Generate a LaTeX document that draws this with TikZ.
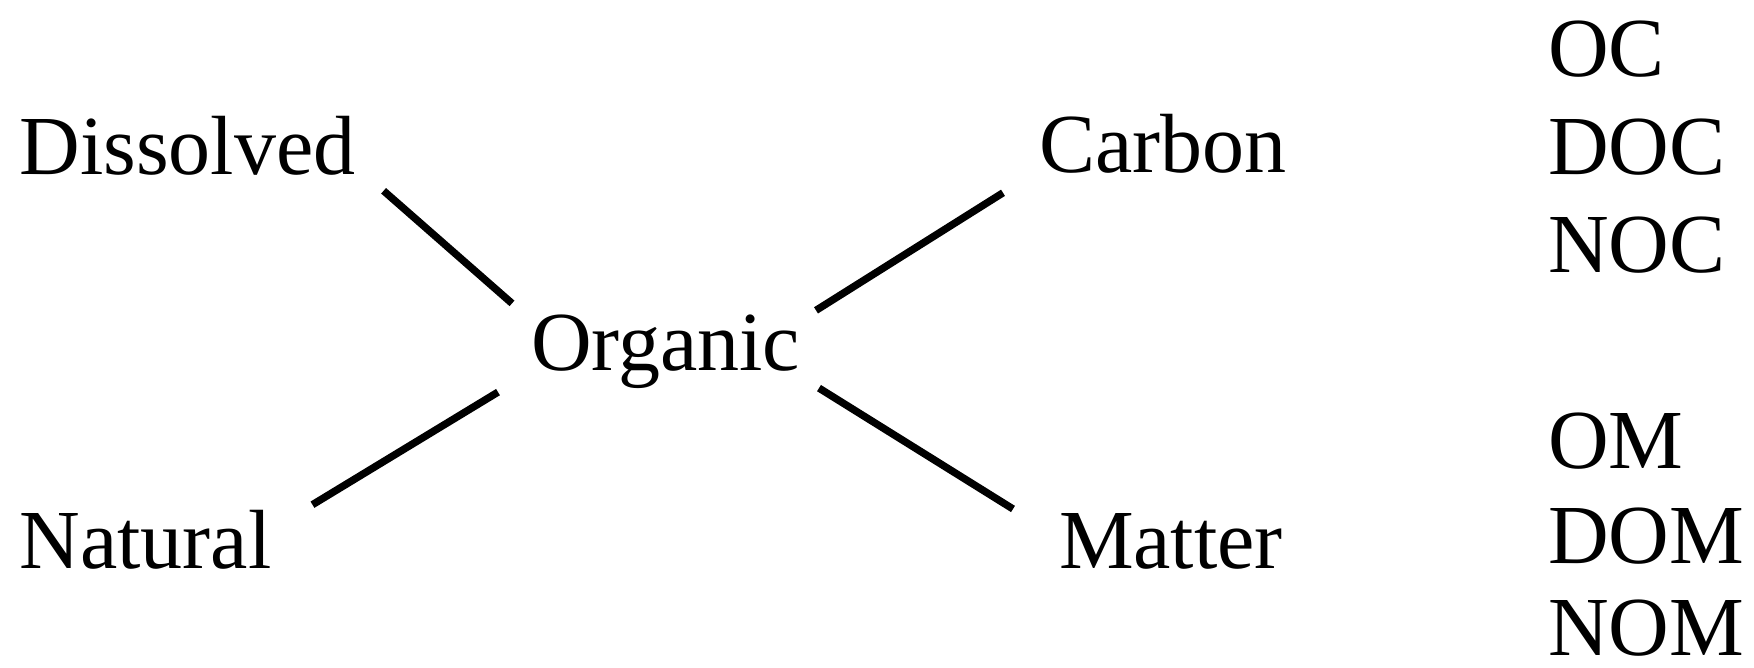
\documentclass[tikz,border=0pt]{standalone}
\usepackage{fontspec}
\setmainfont{Liberation Serif}
\usepackage{tikz}
\usetikzlibrary{calc}

\begin{document}
\begin{tikzpicture}[
    font=\fontsize{23.9pt}{28pt}\selectfont,
    word/.style={anchor=base west, inner sep=0pt, outer sep=0pt},
    abbr/.style={anchor=base west, inner sep=0pt, outer sep=0pt},
    link/.style={line width=2.1pt}
]
\useasboundingbox (0,0) rectangle (17.54,6.68);

\node[word] (dis) at (0.196,4.93) {Dissolved};
\node[word] (nat) at (0.196,0.99) {Natural};
\node[word] (org) at (5.31,2.97) {Organic};
\node[word] (car) at (10.39,4.95) {Carbon};
\node[word] (mat) at (10.59,0.99) {Matter};

\node[abbr] (oc) at (15.48,5.91) {OC};
\node[abbr] (doc) at (15.48,4.93) {DOC};
\node[abbr] (noc) at (15.48,3.95) {NOC};
\node[abbr] (om) at (15.48,1.99) {OM};
\node[abbr] (dom) at (15.48,1.04) {DOM};
\node[abbr] (nom) at (15.48,0.12) {NOM};

\draw[link] ($(dis.south east)+(0.28,-0.15)$) -- ($(org.north west)+(-0.19,0.12)$);
\draw[link] ($(nat.north east)+(0.41,0.06)$) -- ($(org.south west)+(-0.33,-0.03)$);
\draw[link] ($(org.north east)+(0.16,0.05)$) -- ($(car.south west)+(-0.36,-0.19)$);
\draw[link] ($(org.south east)+(0.19,0.01)$) -- ($(mat.north west)+(-0.46,0.05)$);

\end{tikzpicture}
\end{document}
